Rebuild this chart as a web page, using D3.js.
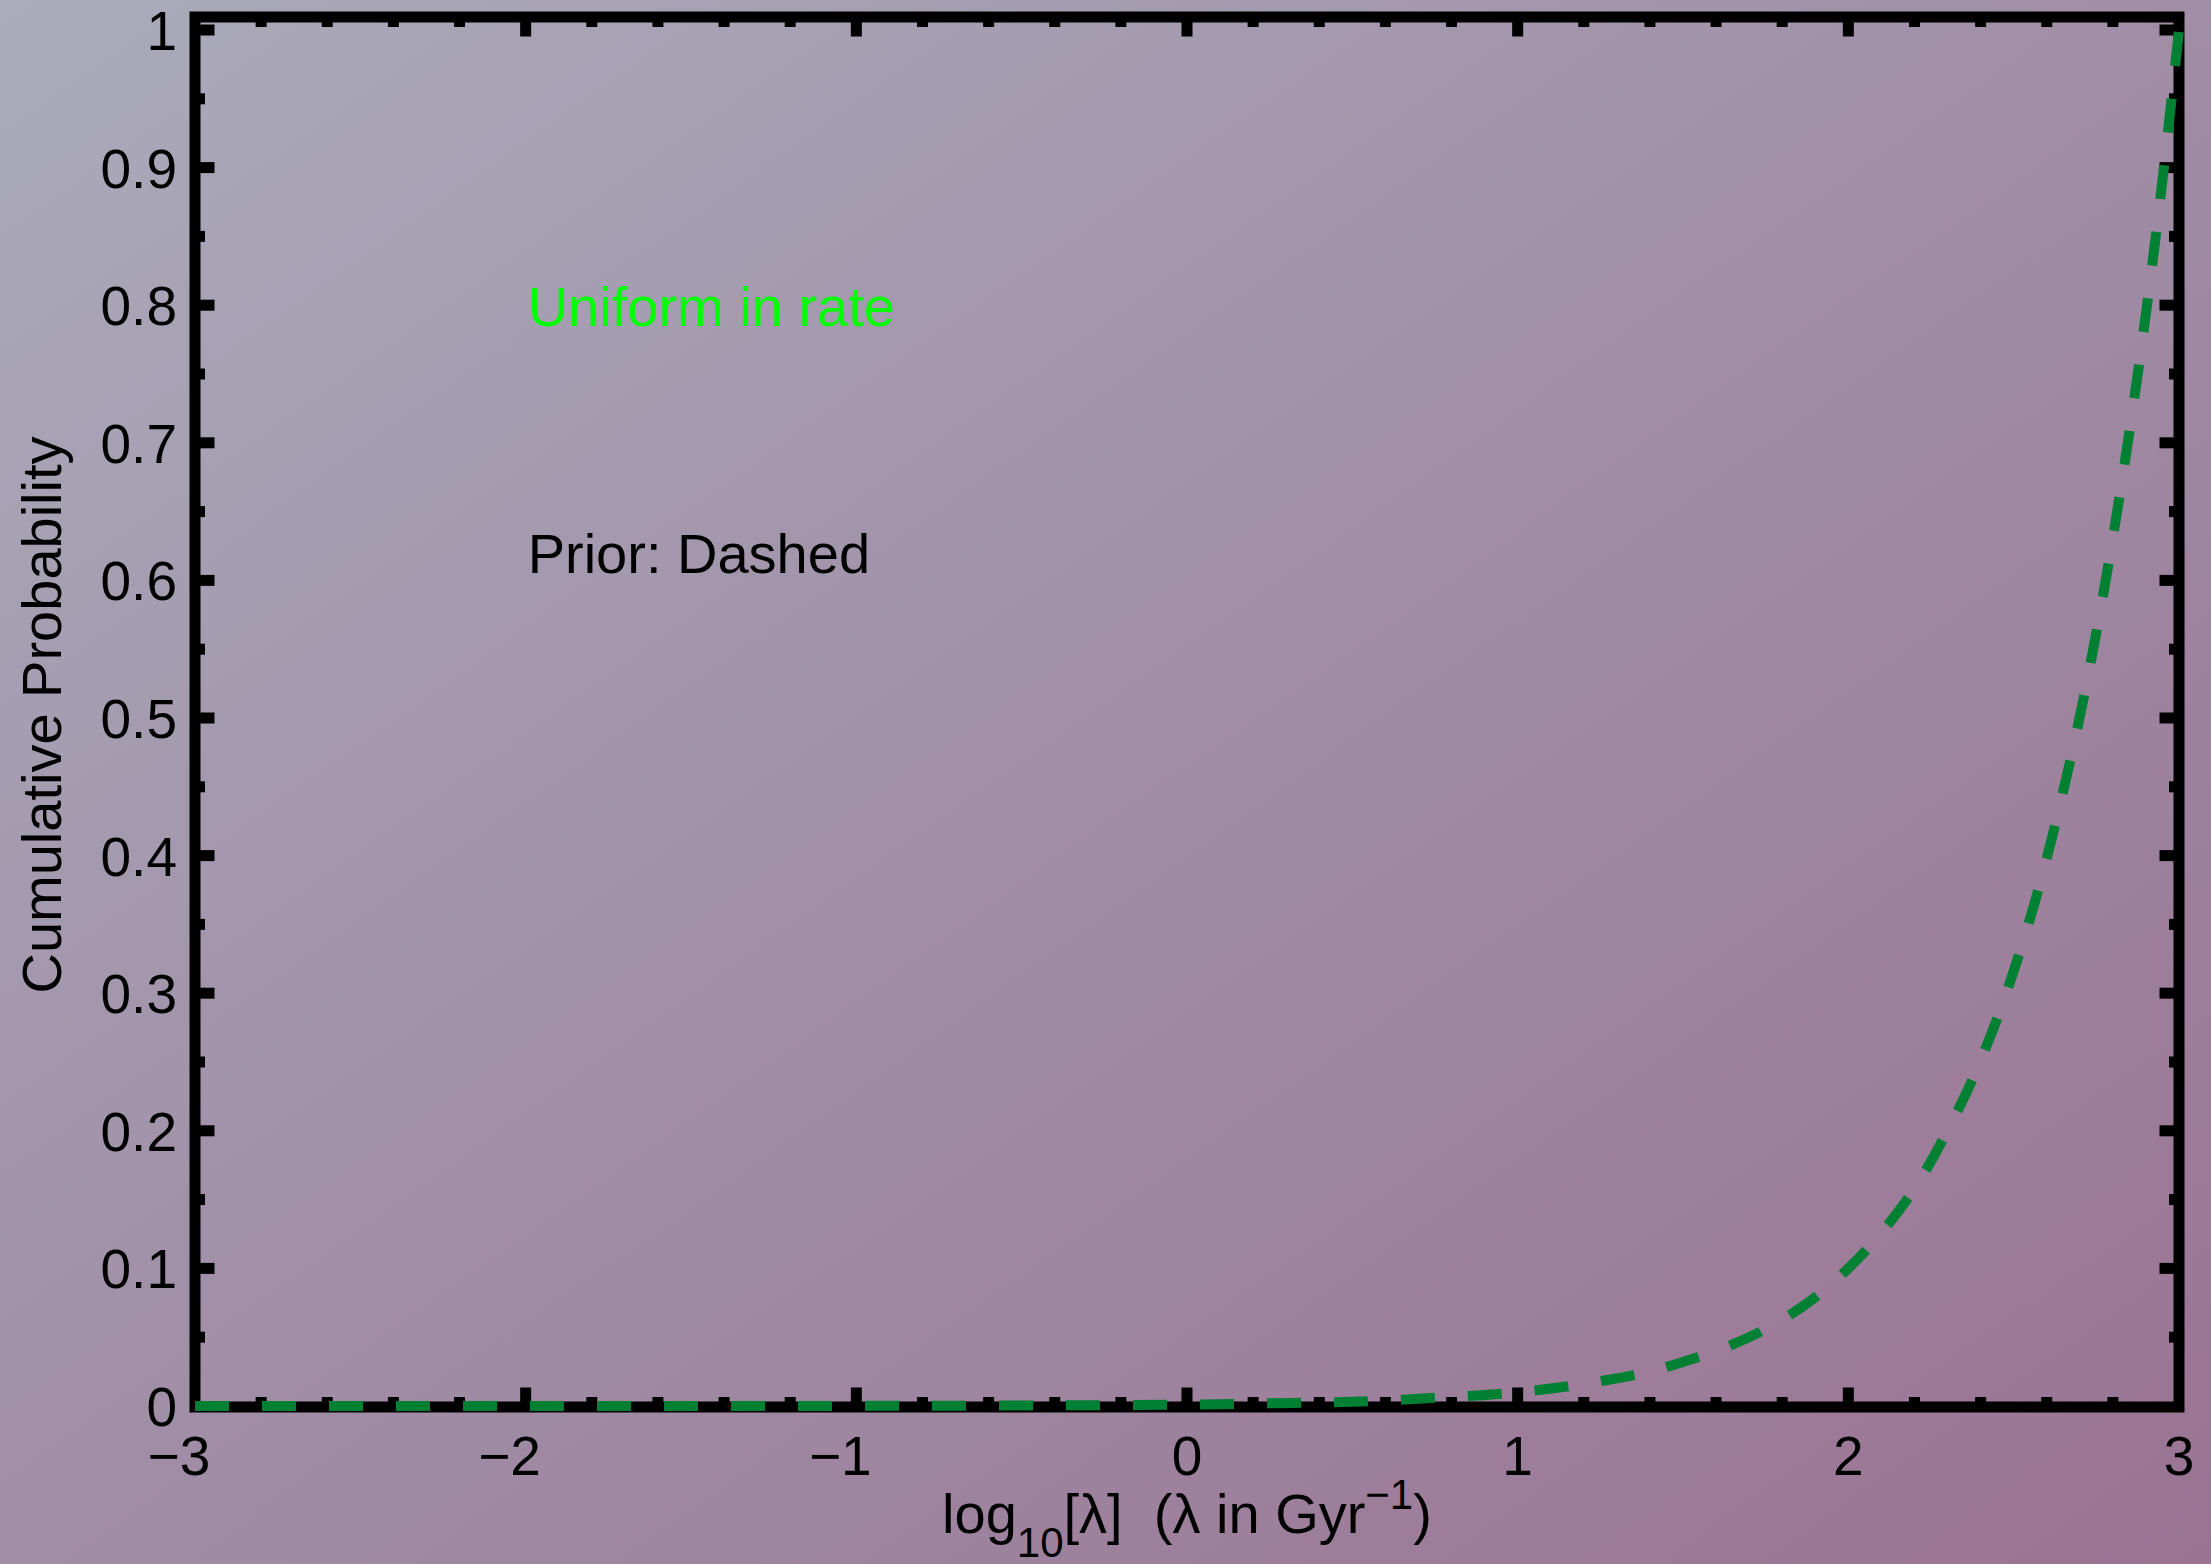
<!DOCTYPE html>
<html>
<head>
<meta charset="utf-8">
<script src="https://cdn.jsdelivr.net/npm/d3@7"></script>
<style>
  body { margin: 0; padding: 0; overflow: hidden; }
  text { font-family: "Liberation Sans", Arial, Helvetica, sans-serif; }
</style>
</head>
<body>
<div id="chart"></div>
<script>
// prior curve
var logLambda = [-3, -2, -1, 0, 0.25, 0.5, 0.75, 1, 1.25, 1.4, 1.5, 1.6, 1.75, 1.9, 2, 2.1, 2.2, 2.3, 2.4, 2.5, 2.6, 2.65, 2.7, 2.75, 2.8, 2.85, 2.9, 2.95, 3]
var cumProb   = [0, 0, 0.0001, 0.001, 0.002, 0.003, 0.006, 0.01, 0.018, 0.025, 0.032, 0.04, 0.056, 0.079, 0.1, 0.126, 0.158, 0.2, 0.251, 0.316, 0.398, 0.447, 0.501, 0.562, 0.631, 0.708, 0.794, 0.891, 1]

var xTicks = [-3, -2, -1, 0, 1, 2, 3]
var xMinor = d3.range(-3, 3.001, 0.2)
var yTicks = [0, 0.1, 0.2, 0.3, 0.4, 0.5, 0.6, 0.7, 0.8, 0.9, 1]
var yTickLabels = ["0", "0.1", "0.2", "0.3", "0.4", "0.5", "0.6", "0.7", "0.8", "0.9", "1"]
var yMinor = d3.range(0, 1.001, 0.05)

var width = 2211
var height = 1564
var fs = 55

var x = d3.scaleLinear().domain([-3, 3]).range([195, 2179])
var y = d3.scaleLinear().domain([0, 1]).range([1406, 30])
var frameTop = 17
var frameBottom = 1407

var svg = d3.select("#chart")
	.append("svg")
	.attr("width", width)
	.attr("height", height)

// background
var grad = svg.append("defs").append("linearGradient")
	.attr("id", "bg")
	.attr("x1", 0).attr("y1", 0).attr("x2", 1).attr("y2", 1)
grad.append("stop").attr("offset", "0%").attr("stop-color", "#aaabbb")
grad.append("stop").attr("offset", "50%").attr("stop-color", "#a08ea6")
grad.append("stop").attr("offset", "100%").attr("stop-color", "#9a7393")

svg.append("rect")
	.attr("width", width)
	.attr("height", height)
	.attr("fill", "url(#bg)")

// frame
svg.append("rect")
	.attr("x", x(-3))
	.attr("y", frameTop)
	.attr("width", x(3) - x(-3))
	.attr("height", frameBottom - frameTop)
	.attr("fill", "none")
	.attr("stroke", "black")
	.attr("stroke-width", 11)

var ticks = svg.append("g").attr("stroke", "black").attr("stroke-width", 11)
function isMajor(v, step) { return Math.abs(v / step - Math.round(v / step)) < 1e-6 }

xMinor.forEach(function(v) {
	var len = isMajor(v, 1) ? 19.5 : 10
	if (Math.abs(v) > 2.999) return
	ticks.append("line").attr("x1", x(v)).attr("x2", x(v)).attr("y1", frameBottom).attr("y2", frameBottom - len)
	ticks.append("line").attr("x1", x(v)).attr("x2", x(v)).attr("y1", frameTop).attr("y2", frameTop + len)
})
yMinor.forEach(function(v) {
	var len = isMajor(v, 0.1) ? 19.5 : 10
	if (v < 0.001) return
	ticks.append("line").attr("x1", x(-3)).attr("x2", x(-3) + len).attr("y1", y(v)).attr("y2", y(v))
	ticks.append("line").attr("x1", x(3)).attr("x2", x(3) - len).attr("y1", y(v)).attr("y2", y(v))
})

// tick labels
svg.append("g").selectAll("text")
	.data(yTicks)
	.enter().append("text")
	.attr("x", 177)
	.attr("y", function(d) { return y(d) + 20 })
	.attr("text-anchor", "end")
	.attr("font-size", fs)
	.text(function(d, i) { return yTickLabels[i] })

// digit centred on the tick, minus hangs to the left
svg.append("g").selectAll("text")
	.data(xTicks)
	.enter().append("text")
	.attr("x", function(d) { return x(d) + fs * 0.278 })
	.attr("y", 1475)
	.attr("text-anchor", "end")
	.attr("font-size", fs)
	.text(function(d) { return d < 0 ? "\u2212" + Math.abs(d) : String(d) })

// axis titles
var xt = svg.append("text")
	.attr("x", (x(-3) + x(3)) / 2)
	.attr("y", 1533)
	.attr("text-anchor", "middle")
	.attr("font-size", 56)
	.style("white-space", "pre")
xt.append("tspan").text("log")
xt.append("tspan").attr("font-size", 42).attr("dy", 24).text("10")
xt.append("tspan").attr("dy", -24).text("[\u03bb]  (\u03bb in Gyr")
xt.append("tspan").attr("font-size", 42).attr("dy", -24).text("\u22121")
xt.append("tspan").attr("dy", 24).text(")")

svg.append("text")
	.attr("transform", "translate(61," + ((frameTop + frameBottom) / 2 + 3) + ") rotate(-90)")
	.attr("text-anchor", "middle")
	.attr("font-size", 56)
	.text("Cumulative Probability")

// prior curve
var pts = logLambda.map(function(d, i) { return [d, cumProb[i]] })
var line = d3.line()
	.x(function(d) { return x(d[0]) })
	.y(function(d) { return y(d[1]) })
	.curve(d3.curveMonotoneX)

svg.append("path")
	.attr("d", line(pts))
	.attr("fill", "none")
	.attr("stroke", "#008033")
	.attr("stroke-width", 10)
	.attr("stroke-dasharray", "34,33")

// annotations
svg.append("text")
	.attr("x", x(-2) + 2)
	.attr("y", 326)
	.attr("font-size", 56)
	.attr("fill", "#00ff00")
	.text("Uniform in rate")

svg.append("text")
	.attr("x", x(-2) + 2)
	.attr("y", 573)
	.attr("font-size", 56)
	.attr("fill", "black")
	.text("Prior: Dashed")
</script>
</body>
</html>
